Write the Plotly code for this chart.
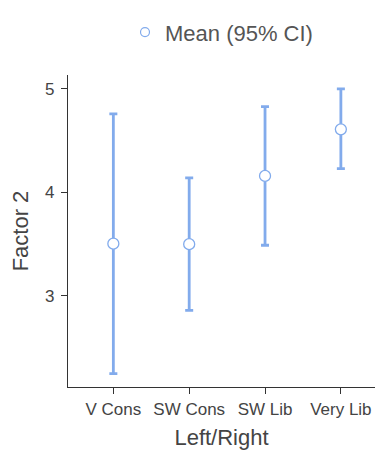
import plotly.graph_objects as go

categories = ["V Cons", "SW Cons", "SW Lib", "Very Lib"]
means = [3.505, 3.50, 4.16, 4.61]
upper = [4.76, 4.14, 4.83, 5.00]
lower = [2.25, 2.86, 3.49, 4.23]
y_ticks = [3, 4, 5]

err_plus = [u - m for u, m in zip(upper, means)]
err_minus = [m - l for m, l in zip(means, lower)]

blue = "#82abec"
fig = go.Figure()
fig.add_trace(go.Scatter(
    x=categories, y=means, mode="markers", name="Mean (95% CI)", showlegend=False,
    marker=dict(symbol="circle", size=11, color="white", line=dict(color=blue, width=1.3)),
    error_y=dict(type="data", symmetric=False, array=err_plus, arrayminus=err_minus,
                 color=blue, thickness=2.8, width=4),
))
# legend entry (smaller marker as in the reference)
fig.add_trace(go.Scatter(
    x=[None], y=[None], mode="markers", name="Mean (95% CI)",
    marker=dict(symbol="circle", size=9, color="white", line=dict(color=blue, width=1.2)),
))

fig.update_layout(
    width=375, height=450,
    margin=dict(l=68, r=0, t=75, b=63),
    paper_bgcolor="white", plot_bgcolor="white",
    font=dict(family="Liberation Sans, Arial, sans-serif", color="#444444"),
    showlegend=True,
    legend=dict(orientation="h", x=0.5, xanchor="center", y=0.975, yanchor="top",
                yref="container", font=dict(size=22, color="#555555")),
    xaxis=dict(type="category", range=[-0.598, 3.45], showline=True, linecolor="#333333",
               linewidth=1.3, ticks="outside", ticklen=6, tickcolor="#333333",
               tickfont=dict(size=17, color="#444444"), showgrid=False, zeroline=False,
               title=dict(text="Left/Right", font=dict(size=22, color="#444444"), standoff=14)),
    yaxis=dict(range=[2.12, 5.135], tickvals=y_ticks, showline=True, linecolor="#333333",
               linewidth=1.3, ticks="outside", ticklen=6, tickcolor="#333333",
               ticklabelstandoff=3,
               tickfont=dict(size=17, color="#444444"), showgrid=False, zeroline=False,
               title=dict(text="Factor 2", font=dict(size=22, color="#444444"), standoff=10)),
)

fig.write_html("out.html")
